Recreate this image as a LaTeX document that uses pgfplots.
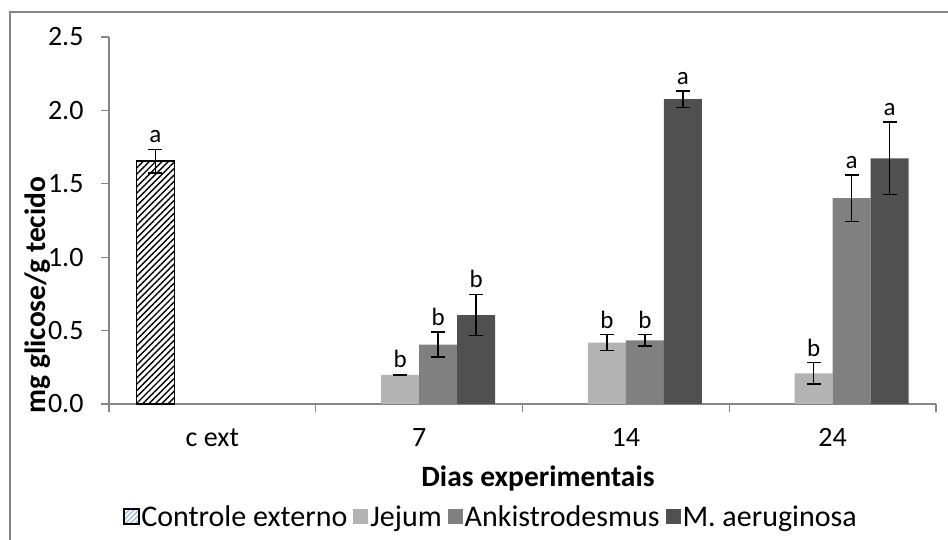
\documentclass[border=0pt]{standalone}
\usepackage{fontspec}
\setmainfont{Carlito}
\usepackage{pgfplots}
\usepackage{pgfplotstable}
\pgfplotsset{compat=1.18}
\usetikzlibrary{patterns,patterns.meta}
\definecolor{axgray}{RGB}{134,134,134}
\definecolor{jej}{RGB}{179,179,179}
\definecolor{ank}{RGB}{128,128,128}
\definecolor{mae}{RGB}{80,80,80}
\definecolor{hatchblue}{RGB}{140,175,225}

\pgfplotstableread{
x y e l
0 1.655 0.080 a
}\ctrl
\pgfplotstableread{
x y e l
1 0.198 0.004 b
2 0.418 0.054 b
3 0.209 0.074 b
}\jejum
\pgfplotstableread{
x y e l
1 0.404 0.085 b
2 0.434 0.040 b
3 1.402 0.158 a
}\ankis
\pgfplotstableread{
x y e l
1 0.606 0.141 b
2 2.076 0.056 a
3 1.674 0.247 a
}\maer

\begin{document}
\begin{tikzpicture}
\useasboundingbox (0pt,0pt) rectangle (948pt,540pt);
\fill[white] (0pt,0pt) rectangle (948pt,540pt);
\draw[axgray, line width=1.2pt] (10pt,-20pt) -- (10pt,528pt) -- (990pt,528pt);
\begin{axis}[
  at={(109pt,136pt)}, anchor=south west,
  scale only axis, width=827pt, height=367pt,
  xmin=-0.5, xmax=3.5, ymin=0, ymax=2.5,
  clip=false,
  axis x line=bottom, axis y line=left,
  axis line style={axgray, line width=1.2pt, -},
  xtick={-0.5,0.5,1.5,2.5,3.5},
  xticklabels={c ext,7,14,24},
  x tick label as interval,
  ytick={0,0.5,1,1.5,2,2.5},
  yticklabels={0.0,0.5,1.0,1.5,2.0,2.5},
  tick align=outside, major tick length=8pt,
  tick style={axgray, line width=1.2pt},
  every tick label/.append style={font=\fontsize{28}{32}\selectfont},
  every x tick label/.append style={yshift=-13pt},
  every y tick label/.append style={xshift=-14pt},
  xlabel={Dias experimentais},
  ylabel={mg glicose/g tecido},
  every axis x label/.style={at={(axis description cs:0.5187,-0.2016)}, anchor=center, font=\fontsize{29.5}{33}\selectfont\bfseries},
  every axis y label/.style={at={(axis description cs:-0.0859,0.297)}, rotate=90, anchor=center, font=\fontsize{29.5}{33}\selectfont\bfseries},
  legend style={at={(axis description cs:0.4619,-0.308)}, anchor=center, draw=none,
    font=\fontsize{30}{34}\selectfont, legend columns=4,
    /tikz/every even column/.append style={column sep=4pt}},
  legend cell align=left,
  erb/.style={draw=none, mark=none, forget plot,
    error bars/y dir=both, error bars/y explicit,
    error bars/error bar style={draw=black, line width=1.5pt},
    error bars/error mark options={rotate=90, mark size=7pt, line width=1.5pt, draw=black}},
  lbl/.style={draw=none, mark=none, forget plot,
    nodes near coords, point meta=explicit symbolic,
    nodes near coords style={font=\fontsize{25}{28}\selectfont, text=black, anchor=south, inner sep=1pt, yshift=5pt}},
]
\addplot[ybar, bar width=38pt, bar shift=-57pt, draw=black, line width=1.5pt,
  pattern={Lines[angle=45,distance=4.5pt,line width=1.4pt]}, pattern color=black,
  legend image code/.code={\fill[pattern={Lines[angle=45,distance=3.5pt,line width=1.1pt]}, pattern color=hatchblue] (0pt,-7pt) rectangle (15pt,8pt);}]
  table[x=x, y=y] {\ctrl};
\addlegendentry{Controle externo}
\addplot[ybar, bar width=38pt, bar shift=-19pt, draw=none, fill=jej,
  legend image code/.code={\fill[jej] (0pt,-7pt) rectangle (15pt,8pt);}]
  table[x=x, y=y] {\jejum};
\addlegendentry{Jejum}
\addplot[ybar, bar width=38pt, bar shift=19pt, draw=none, fill=ank,
  legend image code/.code={\fill[ank] (0pt,-7pt) rectangle (15pt,8pt);}]
  table[x=x, y=y] {\ankis};
\addlegendentry{Ankistrodesmus}
\addplot[ybar, bar width=38pt, bar shift=57pt, draw=none, fill=mae,
  legend image code/.code={\fill[mae] (0pt,-7pt) rectangle (15pt,8pt);}]
  table[x=x, y=y] {\maer};
\addlegendentry{M. aeruginosa}

\addplot[erb] table[x expr=\thisrow{x}-0.2757, y=y, y error=e] {\ctrl};
\addplot[erb] table[x expr=\thisrow{x}-0.0919, y=y, y error=e] {\jejum};
\addplot[erb] table[x expr=\thisrow{x}+0.0919, y=y, y error=e] {\ankis};
\addplot[erb] table[x expr=\thisrow{x}+0.2757, y=y, y error=e] {\maer};

\addplot[lbl] table[x expr=\thisrow{x}-0.2757, y expr=\thisrow{y}+\thisrow{e}, meta=l] {\ctrl};
\addplot[lbl] table[x expr=\thisrow{x}-0.0919, y expr=\thisrow{y}+\thisrow{e}, meta=l] {\jejum};
\addplot[lbl] table[x expr=\thisrow{x}+0.0919, y expr=\thisrow{y}+\thisrow{e}, meta=l] {\ankis};
\addplot[lbl] table[x expr=\thisrow{x}+0.2757, y expr=\thisrow{y}+\thisrow{e}, meta=l] {\maer};
\end{axis}
\end{tikzpicture}
\end{document}
